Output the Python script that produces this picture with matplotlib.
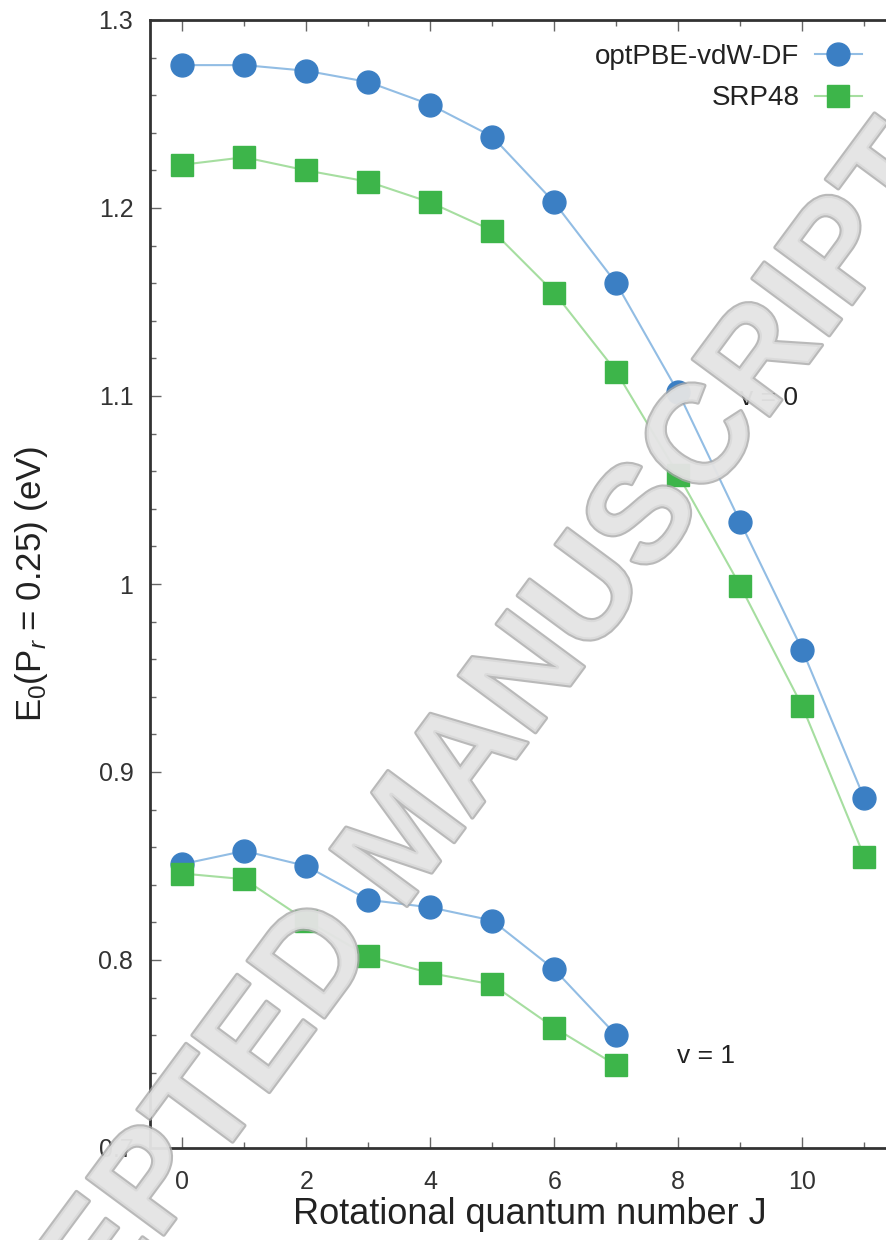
import matplotlib
matplotlib.use('Agg')
import matplotlib.pyplot as plt
import matplotlib.patheffects as pe
from matplotlib.ticker import MultipleLocator, FormatStrFormatter, FixedLocator

plt.rcParams['font.family'] = 'Liberation Sans'
plt.rcParams['mathtext.fontset'] = 'custom'
plt.rcParams['mathtext.rm'] = 'Liberation Sans'
plt.rcParams['mathtext.it'] = 'Liberation Sans:italic'

# rotational quantum number J
J_v0 = [0, 1, 2, 3, 4, 5, 6, 7, 8, 9, 10, 11]
J_v1 = [0, 1, 2, 3, 4, 5, 6, 7]

# E0 at reaction probability 0.25 (eV)
optpbe_v0 = [1.276, 1.276, 1.273, 1.267, 1.255, 1.238, 1.203, 1.160, 1.102, 1.033, 0.965, 0.886]
srp48_v0 = [1.223, 1.227, 1.220, 1.214, 1.203, 1.188, 1.155, 1.113, 1.058, 0.999, 0.935, 0.855]
optpbe_v1 = [0.851, 0.858, 0.850, 0.832, 0.828, 0.821, 0.795, 0.760]
srp48_v1 = [0.846, 0.843, 0.821, 0.802, 0.793, 0.787, 0.764, 0.744]

xticks = [0, 2, 4, 6, 8, 10]

blue = '#3b7fc4'
blue_line = '#92bde4'
green = '#3db54a'
green_line = '#a6dea0'

fig = plt.figure(figsize=(8.86, 12.4), dpi=100)
ax = fig.add_axes([150/886, 92/1240, 13*62/886, 1128/1240])

ax.plot(J_v0, optpbe_v0, '-o', color=blue_line, mfc=blue, mec=blue, ms=16.5, lw=1.5,
        label='optPBE-vdW-DF')
ax.plot(J_v0, srp48_v0, '-s', color=green_line, mfc=green, mec=green, ms=16, lw=1.5,
        label='SRP48')
ax.plot(J_v1, optpbe_v1, '-o', color=blue_line, mfc=blue, mec=blue, ms=16.5, lw=1.5)
ax.plot(J_v1, srp48_v1, '-s', color=green_line, mfc=green, mec=green, ms=16, lw=1.5)

ax.set_xlim(-0.52, 12.48)
ax.set_ylim(0.7, 1.3)
ax.xaxis.set_major_locator(FixedLocator(xticks))
ax.xaxis.set_minor_locator(MultipleLocator(1))
ax.yaxis.set_major_locator(MultipleLocator(0.1))
ax.yaxis.set_minor_locator(MultipleLocator(0.02))
ax.yaxis.set_major_formatter(FormatStrFormatter('%g'))

ax.tick_params(which='both', direction='in', top=True, right=True, color='#666666')
ax.tick_params(which='major', length=8, width=1, labelsize=18, labelcolor='#333333')
ax.tick_params(axis='y', which='major', pad=12)
ax.tick_params(axis='x', which='major', pad=16)
ax.tick_params(which='minor', length=4, width=1)
for s in ax.spines.values():
    s.set_linewidth(2)
    s.set_color('#333333')

ax.set_xlabel('Rotational quantum number J', fontsize=26, color='#222222')
ax.set_ylabel(r'E$_0$(P$_r$ = 0.25) (eV)', fontsize=25, color='#222222')
ax.xaxis.set_label_coords(380/806, -0.043)
ax.yaxis.set_label_coords(-0.124, 0.5)

ax.text(9.0, 1.099, 'v = 0', fontsize=19, color='#222222', ha='left', va='center')
ax.text(7.98, 0.749, 'v = 1', fontsize=19, color='#222222', ha='left', va='center')

leg = ax.legend(loc='upper right', bbox_to_anchor=(862/886, 1 - 44/1240),
                bbox_transform=fig.transFigure, frameon=False, markerfirst=False,
                fontsize=20, handlelength=1.7, handletextpad=0.55, labelspacing=0.55,
                borderpad=0, borderaxespad=0)
for t in leg.get_texts():
    t.set_color('#222222')

# watermark across the plot
fig.text(438/886, 1 - 864/1240, 'ACCEPTED MANUSCRIPT', fontsize=100, weight='bold',
         color='#e4e4e4', alpha=0.8, rotation=53.5, rotation_mode='anchor',
         ha='center', va='baseline', zorder=10,
         path_effects=[pe.withStroke(linewidth=3, foreground='#a8a8a8')])

fig.savefig('out.png', dpi=100)
